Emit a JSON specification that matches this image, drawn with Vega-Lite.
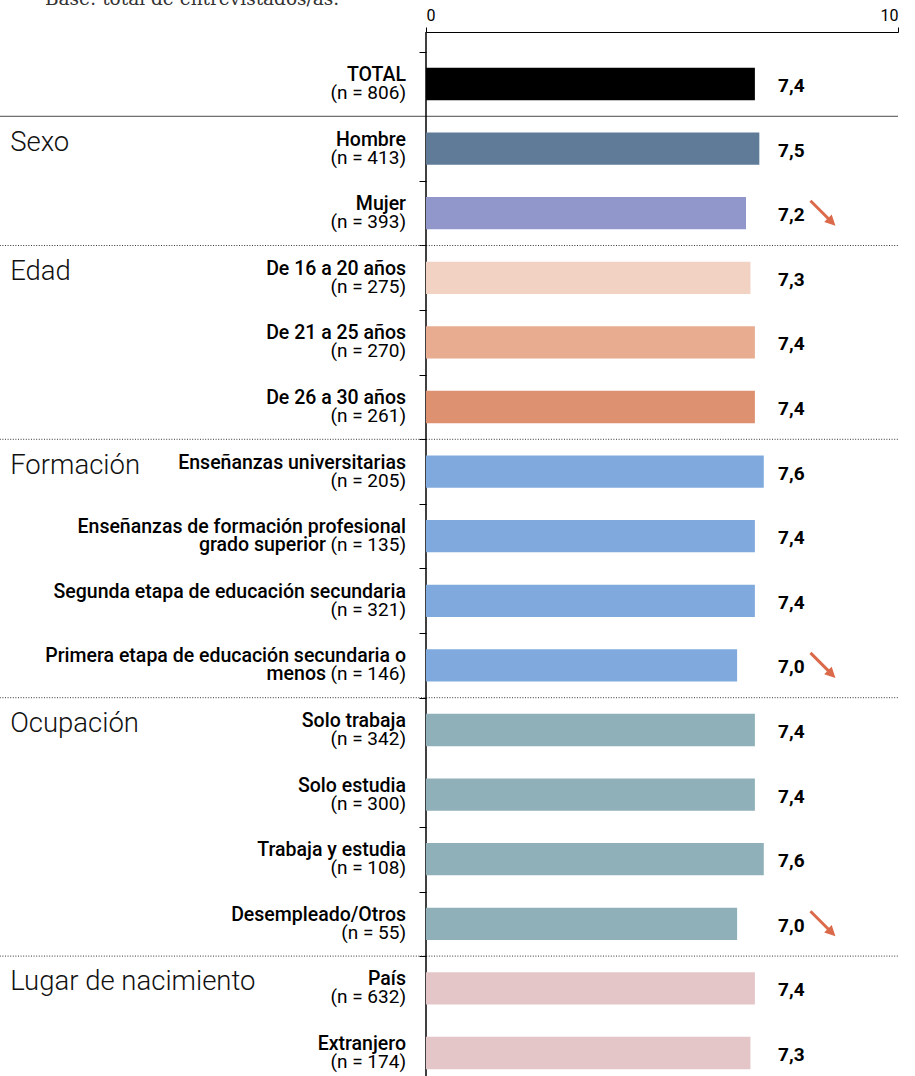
{
  "$schema": "https://vega.github.io/schema/vega-lite/v6.json",
  "width": 472,
  "height": 1044,
  "autosize": {"type": "none"},
  "padding": {"left": 426, "top": 32, "right": 17, "bottom": 0},
  "background": "white",
  "title": {
    "text": "Base: total de entrevistados/as.",
    "anchor": "start",
    "frame": "group",
    "orient": "top",
    "dx": -381,
    "dy": 16,
    "offset": 0,
    "baseline": "alphabetic",
    "font": "DejaVu Serif",
    "fontSize": 18.5,
    "fontWeight": "normal",
    "color": "#333333"
  },
  "datasets": {
    "filas": [
      {"key": "TOTAL", "linea1": "TOTAL", "linea2b": "", "nlab": "(n = 806)", "valor": 7.4, "tendencia": ""},
      {"key": "Hombre", "linea1": "Hombre", "linea2b": "", "nlab": "(n = 413)", "valor": 7.5, "tendencia": ""},
      {"key": "Mujer", "linea1": "Mujer", "linea2b": "", "nlab": "(n = 393)", "valor": 7.2, "tendencia": "baja"},
      {"key": "De 16 a 20 años", "linea1": "De 16 a 20 años", "linea2b": "", "nlab": "(n = 275)", "valor": 7.3, "tendencia": ""},
      {"key": "De 21 a 25 años", "linea1": "De 21 a 25 años", "linea2b": "", "nlab": "(n = 270)", "valor": 7.4, "tendencia": ""},
      {"key": "De 26 a 30 años", "linea1": "De 26 a 30 años", "linea2b": "", "nlab": "(n = 261)", "valor": 7.4, "tendencia": ""},
      {"key": "Enseñanzas universitarias", "linea1": "Enseñanzas universitarias", "linea2b": "", "nlab": "(n = 205)", "valor": 7.6, "tendencia": ""},
      {"key": "Enseñanzas de formación profesional grado superior", "linea1": "Enseñanzas de formación profesional", "linea2b": "grado superior", "nlab": "(n = 135)", "valor": 7.4, "tendencia": ""},
      {"key": "Segunda etapa de educación secundaria", "linea1": "Segunda etapa de educación secundaria", "linea2b": "", "nlab": "(n = 321)", "valor": 7.4, "tendencia": ""},
      {"key": "Primera etapa de educación secundaria o menos", "linea1": "Primera etapa de educación secundaria o", "linea2b": "menos", "nlab": "(n = 146)", "valor": 7.0, "tendencia": "baja"},
      {"key": "Solo trabaja", "linea1": "Solo trabaja", "linea2b": "", "nlab": "(n = 342)", "valor": 7.4, "tendencia": ""},
      {"key": "Solo estudia", "linea1": "Solo estudia", "linea2b": "", "nlab": "(n = 300)", "valor": 7.4, "tendencia": ""},
      {"key": "Trabaja y estudia", "linea1": "Trabaja y estudia", "linea2b": "", "nlab": "(n = 108)", "valor": 7.6, "tendencia": ""},
      {"key": "Desempleado/Otros", "linea1": "Desempleado/Otros", "linea2b": "", "nlab": "(n = 55)", "valor": 7.0, "tendencia": "baja"},
      {"key": "País", "linea1": "País", "linea2b": "", "nlab": "(n = 632)", "valor": 7.4, "tendencia": ""},
      {"key": "Extranjero", "linea1": "Extranjero", "linea2b": "", "nlab": "(n = 174)", "valor": 7.3, "tendencia": ""}
    ],
    "grupos": [
      {"grupo": "Sexo", "key": "Hombre"},
      {"grupo": "Edad", "key": "De 16 a 20 años"},
      {"grupo": "Formación", "key": "Enseñanzas universitarias"},
      {"grupo": "Ocupación", "key": "Solo trabaja"},
      {"grupo": "Lugar de nacimiento", "key": "País"}
    ],
    "separadores": [
      {"key": "Hombre", "tipo": "total"},
      {"key": "De 16 a 20 años", "tipo": "grupo"},
      {"key": "Enseñanzas universitarias", "tipo": "grupo"},
      {"key": "Solo trabaja", "tipo": "grupo"},
      {"key": "País", "tipo": "grupo"}
    ]
  },
  "resolve": {"scale": {"x": "independent"}},
  "layer": [
    {
      "layer": [
        {
          "data": {"name": "separadores"},
          "mark": {"type": "rule", "color": "#333333", "strokeWidth": 1},
          "encoding": {
            "y": {"field": "key", "type": "nominal", "bandPosition": 0, "sort": null, "axis": {"title": null}},
            "x": {"datum": -9.03, "type": "quantitative", "scale": {"domain": [0, 10]}, "axis": {"orient": "top", "values": [0, 10], "title": null}},
            "x2": {"datum": 10},
            "strokeDash": {"field": "tipo", "type": "nominal", "scale": {"domain": ["total", "grupo"], "range": [[1, 0], [1, 1.6]]}, "legend": null}
          }
        },
        {
          "data": {"values": [{"eje": "0"}]},
          "mark": {"type": "rule", "color": "#000000", "strokeWidth": 1.5},
          "encoding": {
            "x": {"datum": 0, "type": "quantitative"}
          }
        },
        {
          "data": {"name": "grupos"},
          "mark": {"type": "text", "align": "left", "baseline": "alphabetic", "dy": 2, "font": "Roboto", "fontWeight": 300, "fontSize": 27.5, "color": "#111111"},
          "encoding": {
            "y": {"field": "key", "type": "nominal", "sort": null, "axis": {"title": null}},
            "x": {"datum": -8.81, "type": "quantitative"},
            "text": {"field": "grupo"}
          }
        },
        {
          "data": {"name": "filas"},
          "mark": {"type": "text", "align": "right", "baseline": "alphabetic", "dx": -20, "dy": -3, "font": "Roboto", "fontWeight": 500, "fontSize": 19.5, "color": "#000000"},
          "encoding": {
            "y": {"field": "key", "type": "nominal", "sort": null, "axis": {"title": null}},
            "x": {"datum": 0, "type": "quantitative"},
            "text": {"field": "linea1"}
          }
        },
        {
          "data": {"name": "filas"},
          "mark": {"type": "text", "align": "right", "baseline": "alphabetic", "dx": -20, "dy": 15, "font": "Roboto", "fontWeight": 400, "fontSize": 19, "color": "#000000"},
          "encoding": {
            "y": {"field": "key", "type": "nominal", "sort": null, "axis": {"title": null}},
            "x": {"datum": 0, "type": "quantitative"},
            "text": {"field": "nlab"}
          }
        },
        {
          "data": {"name": "filas"},
          "transform": [{"filter": "datum.linea2b != ''"}],
          "mark": {"type": "text", "align": "right", "baseline": "alphabetic", "dx": -100, "dy": 15, "font": "Roboto", "fontWeight": 500, "fontSize": 19.5, "color": "#000000"},
          "encoding": {
            "y": {"field": "key", "type": "nominal", "sort": null, "axis": {"title": null}},
            "x": {"datum": 0, "type": "quantitative"},
            "text": {"field": "linea2b"}
          }
        },
        {
          "data": {"name": "filas"},
          "mark": {"type": "text", "align": "left", "baseline": "middle", "dy": 2, "font": "Roboto", "fontWeight": 700, "fontSize": 19, "color": "#000000"},
          "encoding": {
            "y": {"field": "key", "type": "nominal", "sort": null, "axis": {"title": null}},
            "x": {"datum": 7.46, "type": "quantitative"},
            "text": {"field": "valor", "type": "quantitative", "format": ".1f"}
          }
        },
        {
          "data": {"name": "filas"},
          "transform": [{"filter": "datum.tendencia == 'baja'"}],
          "mark": {"type": "point", "filled": true, "opacity": 1, "size": 625, "color": "#DB6A4B", "shape": "M-0.915,-1.085L0.485,0.315L0.7,0.1L1,1L0.1,0.7L0.315,0.485L-1.085,-0.915Z"},
          "encoding": {
            "y": {"field": "key", "type": "nominal", "sort": null, "axis": {"title": null}},
            "x": {"datum": 8.41, "type": "quantitative"}
          }
        }
      ]
    },
    {
      "data": {"name": "filas"},
      "mark": {"type": "bar", "height": {"band": 0.5}},
      "encoding": {
        "y": {
          "field": "key", "type": "nominal", "sort": null,
          "scale": {
            "domain": ["TOTAL", "Hombre", "Mujer", "De 16 a 20 años", "De 21 a 25 años", "De 26 a 30 años", "Enseñanzas universitarias", "Enseñanzas de formación profesional grado superior", "Segunda etapa de educación secundaria", "Primera etapa de educación secundaria o menos", "Solo trabaja", "Solo estudia", "Trabaja y estudia", "Desempleado/Otros", "País", "Extranjero"],
            "range": [19.7, 1053.3],
            "paddingInner": 0,
            "paddingOuter": 0
          },
          "axis": {
            "title": null,
            "labels": false,
            "domain": false,
            "ticks": true,
            "tickSize": 7,
            "tickColor": "#000000",
            "tickWidth": 1,
            "tickBand": "extent",
            "tickOpacity": {"condition": {"test": "indexof(['TOTAL', 'Solo trabaja', 'País'], datum.value) >= 0", "value": 0}, "value": 1},
            "grid": false
          }
        },
        "x": {"field": "valor", "type": "quantitative", "scale": {"domain": [0, 10.62]}, "axis": null},
        "color": {
          "field": "key", "type": "nominal",
          "scale": {
            "domain": ["TOTAL", "Hombre", "Mujer", "De 16 a 20 años", "De 21 a 25 años", "De 26 a 30 años", "Enseñanzas universitarias", "Enseñanzas de formación profesional grado superior", "Segunda etapa de educación secundaria", "Primera etapa de educación secundaria o menos", "Solo trabaja", "Solo estudia", "Trabaja y estudia", "Desempleado/Otros", "País", "Extranjero"],
            "range": ["#000000", "#5F7B98", "#9197CA", "#F2D3C3", "#E8AC91", "#DE9170", "#80AADD", "#80AADD", "#80AADD", "#80AADD", "#8FB0B8", "#8FB0B8", "#8FB0B8", "#8FB0B8", "#E4C6C8", "#E4C6C8"]
          },
          "legend": null
        }
      }
    }
  ],
  "config": {
    "view": {"stroke": null},
    "locale": {"number": {"decimal": ",", "thousands": ".", "grouping": [3], "currency": ["", " €"]}},
    "axisX": {
      "domainColor": "#000000",
      "domainWidth": 1.2,
      "tickColor": "#000000",
      "tickSize": 5,
      "labelFont": "Roboto",
      "labelFontSize": 16,
      "labelColor": "#000000",
      "labelPadding": 4,
      "grid": false,
      "labelAngle": 0
    }
  }
}
